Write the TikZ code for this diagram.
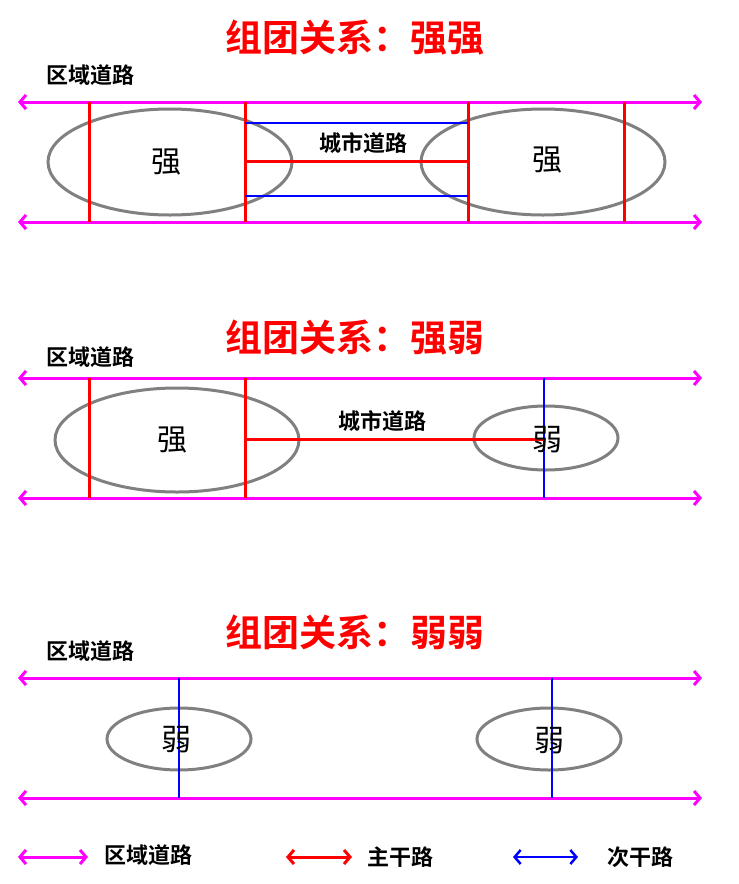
\documentclass[tikz,border=0pt]{standalone}
\usepackage{fontspec}
\newfontfamily\cjk{Noto Sans CJK SC}
\newfontfamily\cjkb{Noto Sans CJK SC Bold}
\usetikzlibrary{arrows.meta}
\definecolor{roadmag}{RGB}{255,0,255}
\begin{document}
\begin{tikzpicture}[x=1pt,y=-1pt]
%define
\tikzset{
  tips/.style = {{Straight Barb[length=6pt,width=14pt]}-{Straight Barb[length=6pt,width=14pt]}},
  region/.style = {draw=roadmag, line width=3pt, tips},
  trunk/.style = {draw=red, line width=3pt},
  minor/.style = {draw=blue, line width=2.5pt},
  cluster/.style = {draw=gray, line width=3pt},
  title_t/.style = {text=red, font=\cjkb\fontsize{37}{40}\selectfont},
  label_t/.style = {font=\cjkb\fontsize{22}{24}\selectfont},
  city_t/.style = {font=\cjk\fontsize{30}{32}\selectfont}
}
\useasboundingbox (0,0) rectangle (739,884);

%panel 1
\node[title_t] (title1) at (355,38) {组团关系：强强};
\node[label_t] (reg1) at (90,75) {区域道路};
\draw[cluster] (170,162) ellipse [x radius=122, y radius=53];
\draw[cluster] (543,162) ellipse [x radius=122, y radius=53];
\draw[region] (18,102) -- (702,102);
\draw[region] (18,222) -- (702,222);
\foreach \x in {89,245,468,624} \draw[trunk] (\x,102) -- (\x,222);
\draw[minor] (245,123) -- (468,123);
\draw[minor] (245,196) -- (468,196);
\draw[trunk] (245,161) -- (468,161);
\node[label_t] (road1) at (363,143) {城市道路};
\node[city_t] (s1a) at (166,162) {强};
\node[city_t] (s1b) at (547,160) {强};

%panel 2
\node[title_t] (title2) at (355,338) {组团关系：强弱};
\node[label_t] (reg2) at (90,357) {区域道路};
\draw[cluster] (177,440) ellipse [x radius=122, y radius=52];
\draw[cluster] (546,438) ellipse [x radius=72, y radius=32];
\draw[region] (18,378) -- (702,378);
\draw[region] (18,498) -- (702,498);
\foreach \x in {89,245} \draw[trunk] (\x,378) -- (\x,498);
\draw[minor] (544,378) -- (544,498);
\draw[trunk] (245,439) -- (544,439);
\node[label_t] (road2) at (382,421) {城市道路};
\node[city_t] (s2a) at (172,440) {强};
\node[city_t] (w2b) at (547,440) {弱};

%panel 3
\node[title_t] (title3) at (355,632) {组团关系：弱弱};
\node[label_t] (reg3) at (90,651) {区域道路};
\draw[cluster] (179,739) ellipse [x radius=72, y radius=31];
\draw[cluster] (549,739) ellipse [x radius=72, y radius=31];
\draw[region] (18,678) -- (702,678);
\draw[region] (18,798) -- (702,798);
\foreach \x in {179,552} \draw[minor] (\x,678) -- (\x,798);
\node[city_t] (w3a) at (176,740) {弱};
\node[city_t] (w3b) at (549,741) {弱};

%legend
\draw[region] (18,857) -- (88,857);
\node[label_t] (leg1) at (148,855) {区域道路};
\draw[trunk, tips] (286,857) -- (352,857);
\node[label_t] (leg2) at (400,857) {主干路};
\draw[minor, tips] (513,857) -- (578,857);
\node[label_t] (leg3) at (640,857) {次干路};
\end{tikzpicture}
\end{document}
